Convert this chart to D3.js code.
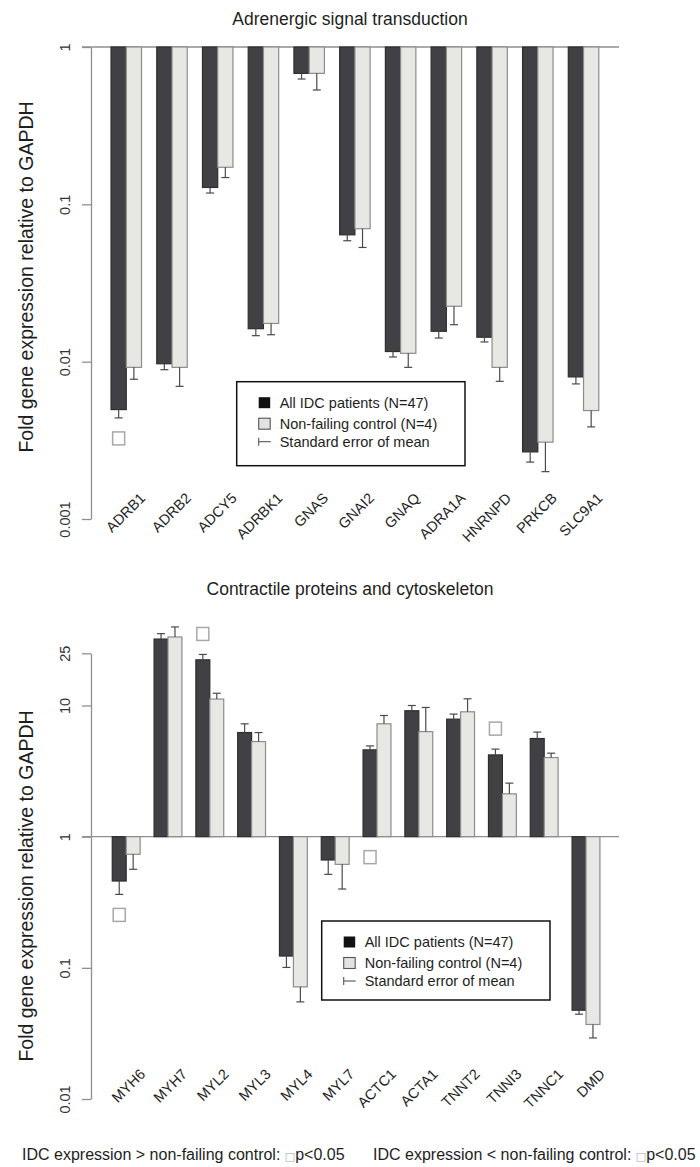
<!DOCTYPE html>
<html>
<head>
<meta charset="utf-8">
<script src="https://cdn.jsdelivr.net/npm/d3@7"></script>
<style>
  html, body { margin: 0; padding: 0; background: #fff; }
  svg { display: block; font-family: "Liberation Sans", Arial, sans-serif; }
</style>
</head>
<body>
<svg id="fig" width="700" height="1167"></svg>
<script>
// ---- Panel A: adrenergic signal transduction ----
const adrGenes = ["ADRB1", "ADRB2", "ADCY5", "ADRBK1", "GNAS", "GNAI2", "GNAQ", "ADRA1A", "HNRNPD", "PRKCB", "SLC9A1"];
const adrIdc   = [0.00496, 0.0097, 0.128, 0.0162, 0.68, 0.064, 0.0116, 0.0156, 0.0143, 0.00267, 0.0080];
const adrCtrl  = [0.0092, 0.0092, 0.172, 0.0175, 0.68, 0.070, 0.0113, 0.0225, 0.0092, 0.00308, 0.00489];
// value reached by mean +/- standard error (drawn away from 1)
const adrIdcErr  = [0.00439, 0.00889, 0.118, 0.01463, 0.626, 0.0587, 0.01071, 0.01413, 0.01334, 0.0023, 0.00722];
const adrCtrlErr = [0.00773, 0.00697, 0.148, 0.01483, 0.533, 0.0532, 0.0092, 0.01718, 0.0075, 0.0020, 0.00385];
const adrSig = [{ gene: "ADRB1", dir: "down" }];
const adrTicks = [1, 0.1, 0.01, 0.001];
const adrTickLabels = ["1", "0.1", "0.01", "0.001"];

// ---- Panel B: contractile proteins and cytoskeleton ----
const conGenes = ["MYH6", "MYH7", "MYL2", "MYL3", "MYL4", "MYL7", "ACTC1", "ACTA1", "TNNT2", "TNNI3", "TNNC1", "DMD"];
const conIdc   = [0.459, 32.1, 22.3, 6.22, 0.123, 0.664, 4.59, 9.12, 7.87, 4.2, 5.6, 0.0475];
const conCtrl  = [0.734, 33.3, 11.2, 5.31, 0.0716, 0.615, 7.25, 6.32, 8.95, 2.12, 4.01, 0.037];
const conIdcErr  = [0.363, 35.3, 24.5, 7.25, 0.1007, 0.516, 4.92, 10.0, 8.6, 4.65, 6.27, 0.0443];
const conCtrlErr = [0.564, 39.7, 12.4, 6.22, 0.055, 0.399, 8.39, 9.66, 11.25, 2.56, 4.33, 0.0292];
const conSig = [{ gene: "MYH6", dir: "down" }, { gene: "MYL2", dir: "up" }, { gene: "ACTC1", dir: "down" }, { gene: "TNNI3", dir: "up" }];
const conTicks = [25, 10, 1, 0.1, 0.01];
const conTickLabels = ["25", "10", "1", "0.1", "0.01"];

const seriesNames = ["All IDC patients (N=47)", "Non-failing control (N=4)", "Standard error of mean"];
const yTitle = "Fold gene expression relative to GAPDH";

const COL = {
  dark: "#414145", darkStroke: "#2e2e30",
  light: "#e7e7e4", lightStroke: "#8c8c8c",
  err: "#4a4a4a", axis: "#8f8f8f", text: "#1e1e1e", sig: "#a8a8a8"
};

const svg = d3.select("#fig");

function drawPanel(p) {
  const g = svg.append("g");
  const x0 = d3.scaleBand().domain(p.genes).range(p.xRange).paddingInner(1 / 3).paddingOuter(1 / 6);
  const x1 = d3.scaleBand().domain(["idc", "ctrl"]).range([0, x0.bandwidth()]);
  const y = d3.scaleLog().domain(p.yDomain).range(p.yRange);
  const base = y(1);

  // title
  g.append("text").attr("x", 350).attr("y", p.titleY).attr("text-anchor", "middle")
    .attr("font-size", 17.5).attr("fill", COL.text).text(p.title);

  // y axis
  const axis = d3.axisLeft(y).tickValues(p.ticks).tickSize(9).tickSizeOuter(0)
    .tickFormat((d, i) => p.tickLabels[i]);
  const ag = g.append("g").attr("transform", `translate(${p.axisX},0)`).call(axis);
  ag.select(".domain").attr("stroke", COL.axis).attr("stroke-width", 1.3);
  ag.selectAll(".tick line").attr("stroke", COL.axis).attr("stroke-width", 1.3);
  ag.selectAll(".tick text").attr("x", 0).attr("dy", 0).attr("text-anchor", "middle")
    .attr("transform", "translate(-21,0) rotate(-90)")
    .attr("font-size", 14.5).attr("fill", "#333").attr("font-family", "Liberation Sans, Arial, sans-serif");

  // y title
  g.append("text").attr("transform", `translate(33,${p.yTitleCenter}) rotate(-90)`)
    .attr("text-anchor", "middle").attr("font-size", 19.5).attr("fill", COL.text).text(yTitle);

  // reference line at 1
  g.append("line").attr("x1", p.axisX - 9).attr("x2", 619).attr("y1", base).attr("y2", base)
    .attr("stroke", COL.axis).attr("stroke-width", 1.3);

  const rows = p.genes.map((gene, i) => ({
    gene,
    bars: [
      { key: "idc", v: p.idc[i], e: p.idcErr[i] },
      { key: "ctrl", v: p.ctrl[i], e: p.ctrlErr[i] }
    ]
  }));

  const grp = g.selectAll("g.gene").data(rows).join("g").attr("class", "gene")
    .attr("transform", d => `translate(${x0(d.gene)},0)`);

  grp.selectAll("rect.bar").data(d => d.bars).join("rect").attr("class", "bar")
    .attr("x", d => x1(d.key)).attr("width", x1.bandwidth())
    .attr("y", d => Math.min(y(d.v), base)).attr("height", d => Math.abs(y(d.v) - base))
    .attr("fill", d => d.key === "idc" ? COL.dark : COL.light)
    .attr("stroke", d => d.key === "idc" ? COL.darkStroke : COL.lightStroke)
    .attr("stroke-width", 1.2);

  // standard error whiskers
  const eb = grp.selectAll("g.err").data(d => d.bars).join("g").attr("class", "err")
    .attr("stroke", COL.err).attr("stroke-width", 1.2);
  eb.append("line")
    .attr("x1", d => x1(d.key) + x1.bandwidth() / 2).attr("x2", d => x1(d.key) + x1.bandwidth() / 2)
    .attr("y1", d => y(d.v)).attr("y2", d => y(d.e));
  eb.append("line")
    .attr("x1", d => x1(d.key) + x1.bandwidth() / 2 - 4).attr("x2", d => x1(d.key) + x1.bandwidth() / 2 + 4)
    .attr("y1", d => y(d.e)).attr("y2", d => y(d.e));

  // gene labels
  g.selectAll("text.gl").data(p.genes).join("text").attr("class", "gl")
    .attr("text-anchor", "end").attr("font-size", 14.5).attr("fill", COL.text)
    .attr("transform", d => `translate(${x0(d) + x0.bandwidth() / 2 + 20},${p.labelY}) rotate(-45)`)
    .text(d => d);

  // significance markers (p<0.05)
  const sz = 12;
  g.selectAll("rect.sig").data(p.sig).join("rect").attr("class", "sig")
    .attr("width", sz).attr("height", sz + 1)
    .attr("x", d => x0(d.gene) + x1("idc") + x1.bandwidth() / 2 - sz / 2)
    .attr("y", d => {
      const i = p.genes.indexOf(d.gene);
      const ends = [y(p.idc[i]), y(p.idcErr[i]), base];
      return d.dir === "down" ? Math.max(...ends) + 14 : Math.min(...ends) - 14 - (sz + 1);
    })
    .attr("fill", "#fff").attr("stroke", COL.sig).attr("stroke-width", 1.5);

  // legend
  const L = p.legend;
  const lg = g.append("g").attr("transform", `translate(${L.x},${L.y})`);
  lg.append("rect").attr("width", L.w).attr("height", L.h).attr("fill", "#fff")
    .attr("stroke", "#111").attr("stroke-width", 1.5);
  const rowY = [21, 42, 60];
  lg.append("rect").attr("x", 22).attr("y", rowY[0] - 5.5).attr("width", 11.5).attr("height", 11)
    .attr("fill", "#111");
  lg.append("rect").attr("x", 22).attr("y", rowY[1] - 5.5).attr("width", 11.5).attr("height", 11)
    .attr("fill", "#e2e2e2").attr("stroke", "#555").attr("stroke-width", 1.1);
  lg.append("line").attr("x1", 22).attr("x2", 34).attr("y1", rowY[2]).attr("y2", rowY[2])
    .attr("stroke", "#555").attr("stroke-width", 1.1);
  lg.append("line").attr("x1", 22).attr("x2", 22).attr("y1", rowY[2] - 4).attr("y2", rowY[2] + 4)
    .attr("stroke", "#555").attr("stroke-width", 1.1);
  lg.selectAll("text").data(seriesNames).join("text")
    .attr("x", 43).attr("y", (d, i) => rowY[i] + 5.2)
    .attr("font-size", 14.5).attr("fill", COL.text).text(d => d);
}

drawPanel({
  title: "Adrenergic signal transduction", titleY: 25,
  genes: adrGenes, idc: adrIdc, ctrl: adrCtrl, idcErr: adrIdcErr, ctrlErr: adrCtrlErr, sig: adrSig,
  ticks: adrTicks, tickLabels: adrTickLabels,
  xRange: [103.4, 606.4], yDomain: [0.001, 1], yRange: [519, 47], axisX: 91,
  yTitleCenter: 277, labelY: 499,
  legend: { x: 236.7, y: 381.7, w: 228.3, h: 84 }
});

drawPanel({
  title: "Contractile proteins and cytoskeleton", titleY: 595,
  genes: conGenes, idc: conIdc, ctrl: conCtrl, idcErr: conIdcErr, ctrlErr: conCtrlErr, sig: conSig,
  ticks: conTicks, tickLabels: conTickLabels,
  xRange: [105.3, 606.9], yDomain: [0.01, 25], yRange: [1099, 653.3], axisX: 91,
  yTitleCenter: 886, labelY: 1075,
  legend: { x: 321.7, y: 921, w: 228.3, h: 79 }
});

// footnote on significance markers
const notes = [
  { x: 22, pre: "IDC expression > non-failing control: " },
  { x: 373, pre: "IDC expression < non-failing control: " }
];
const fn = svg.selectAll("text.note").data(notes).join("text").attr("class", "note")
  .attr("x", d => d.x).attr("y", 1160).attr("font-size", 16).attr("fill", COL.text);
fn.append("tspan").text(d => d.pre);
fn.append("tspan").attr("font-size", 11).attr("fill", "#aaa").attr("font-family", "DejaVu Sans").text("\u25A1");
fn.append("tspan").text("p<0.05");
</script>
</body>
</html>
